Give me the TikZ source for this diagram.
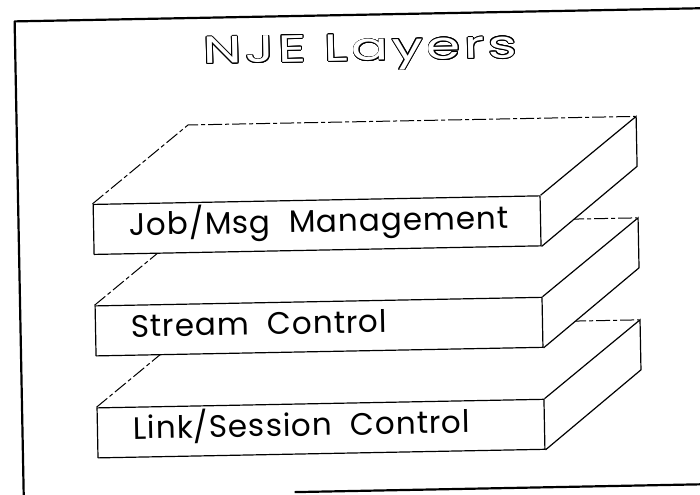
\documentclass[tikz,border=0pt]{standalone}
\usepackage{fontspec}
\setmainfont{Poppins}[LetterSpace=3,WordSpace=2]
\newfontfamily\titlefont{Poppins}[FakeStretch=1.45,LetterSpace=9]
\usepackage{contour}
\contourlength{0.4pt}
\usetikzlibrary{positioning}
\pgfdeclarelayer{faces}
\pgfsetlayers{faces,main}
\begin{document}
\begin{tikzpicture}
  [x=0.5pt,y=-0.5pt,line join=round]
  \tikzstyle{front} = [draw,fill=white,line width=0.6pt,minimum width=223.5pt,minimum height=25pt,inner sep=0pt]
  \tikzstyle{layertext} = [inner sep=0pt,text height=11pt,text depth=4pt,font=\fontsize{15.5}{18}\selectfont]
  \tikzstyle{edge} = [line width=0.6pt]
  \tikzstyle{faint} = [line width=0.5pt,dash pattern=on 7pt off 1.5pt on 2pt off 1.5pt]
  \tikzstyle{frame} = [line width=1.1pt]
  \useasboundingbox (0,0) rectangle (700,494);
  \begin{scope}[rotate around={1.1:(350,247)},transform shape]
  % page frame
  \draw[frame] (705,15) -- (19,15) -- (19,500);
  \draw[frame] (290,491) -- (705,491);
  \node[inner sep=0pt,font=\titlefont\fontsize{19}{23}\selectfont] (title) at (364,53) {\contour{black}{\textcolor{white}{NJE Layers}}};
  % front faces
  \node[front] (jobmsg) at (317.5,224.5) {};
  \node[front] (stream) at (317.5,326) {};
  \node[front] (link) at (317.5,428) {};
  \node[layertext,right=18pt of jobmsg.west] (jobmsgtext) {Job/Msg Management};
  \node[layertext,right=18pt of stream.west] (streamtext) {Stream Control};
  \node[layertext,right=18pt of link.west] (linktext) {Link/Session Control};
  % top and right faces, lowest first
  \begin{pgfonlayer}{faces}
  \foreach \lyr in {link,stream,jobmsg} {
    \fill[white] (\lyr.north west) -- ++(97,-77) -- ++(447,0) -- ++(0,50) -- (\lyr.south east) -- (\lyr.north east) -- cycle;
    \draw[faint] (\lyr.north west) -- ++(97,-77) -- ++(447,0);
    \draw[edge] (\lyr.north east) -- ++(97,-77) -- ++(0,50) -- (\lyr.south east);
  }
  \end{pgfonlayer}
  \end{scope}
\end{tikzpicture}
\end{document}
